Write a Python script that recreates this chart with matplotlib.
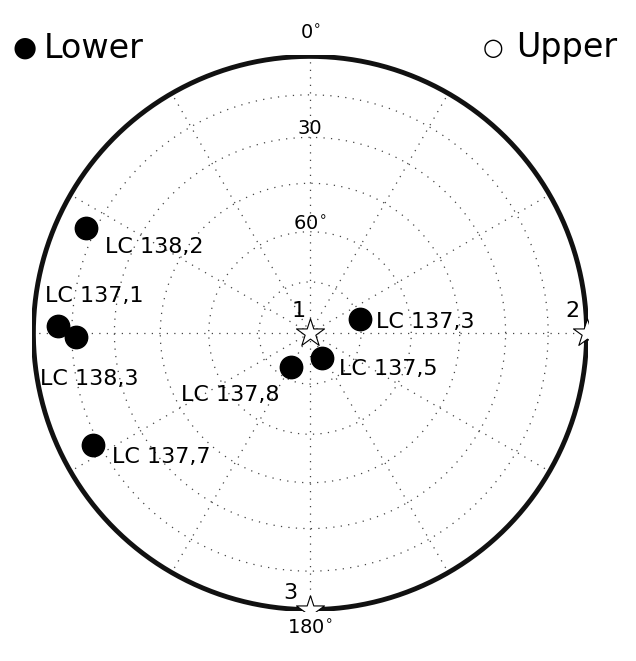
import numpy as np
import matplotlib
matplotlib.use("Agg")
import matplotlib.pyplot as plt

names = ["LC 138,2", "LC 137,1", "LC 138,3", "LC 137,7", "LC 137,3", "LC 137,5", "LC 137,8"]
dec = [295.2, 271.6, 269.0, 242.6, 74.4, 154.4, 209.2]
inc = [11.5, 9.9, 16.6, 12.7, 74.8, 81.9, 78.6]
star_names = ["1", "2", "3"]
star_dec = [0.0, 90.0, 180.0]
star_inc = [90.0, 0.0, 0.0]

def proj(d, i):
    d = np.radians(np.asarray(d, float)); i = np.asarray(i, float)
    r = np.sqrt(2) * np.sin(np.radians((90 - i) / 2))
    return r * np.sin(d), r * np.cos(d)

fig = plt.figure(figsize=(6.36, 6.61), dpi=100)
ax = fig.add_axes([32/636, 50/661, 556/636, 556/661])
ax.set_xlim(-1.005, 1.005); ax.set_ylim(-1.005, 1.005)
ax.set_aspect("equal"); ax.axis("off")

t = np.linspace(0, 2*np.pi, 400)
for ic in [15, 30, 45, 60, 75]:
    r = np.sqrt(2) * np.sin(np.radians((90 - ic) / 2))
    ax.plot(r*np.cos(t), r*np.sin(t), ls=(0, (1, 5)), color="#444", lw=0.9)
for a in range(0, 360, 30):
    ar = np.radians(a)
    ax.plot([0, np.sin(ar)], [0, np.cos(ar)], ls=(0, (1, 5)), color="#444", lw=0.9)
ax.plot(np.cos(t), np.sin(t), color="#111", lw=3.5)

x, y = proj(dec, inc)
ax.scatter(x, y, s=260, color="black", zorder=5)
offs = {"LC 138,2": (0.07, -0.07, "left"), "LC 137,1": (-0.05, 0.11, "left"),
        "LC 138,3": (-0.13, -0.15, "left"), "LC 137,7": (0.07, -0.04, "left"),
        "LC 137,3": (0.06, -0.01, "left"), "LC 137,5": (0.06, -0.04, "left"),
        "LC 137,8": (-0.04, -0.10, "right")}
for n, xi, yi in zip(names, x, y):
    dx, dy, ha = offs[n]
    ax.text(xi+dx, yi+dy, n, fontsize=16, ha=ha, va="center", zorder=6)

sx, sy = proj(star_dec, star_inc)
ax.scatter(sx, sy, s=450, marker="*", facecolor="white", edgecolor="black", lw=0.8, zorder=7)
soff = [(-0.04, 0.08), (-0.05, 0.08), (-0.07, 0.06)]
for n, xi, yi, (dx, dy) in zip(star_names, sx, sy, soff):
    ax.text(xi+dx, yi+dy, n, fontsize=16, ha="center", va="center", zorder=8)

ax.text(0, 1.08, "0$^{\\circ}$", fontsize=14, ha="center", va="center", clip_on=False)
ax.text(0, -1.07, "180$^{\\circ}$", fontsize=14, ha="center", va="center", clip_on=False)
ax.text(0, 0.74, "30", fontsize=14, ha="center", va="center")
ax.text(0, 0.39, "60$^{\\circ}$", fontsize=14, ha="center", va="center")

fig.text(12/636, 1-48/661, "●", fontsize=20, va="center", ha="left")
fig.text(44/636, 1-48/661, "Lower", fontsize=24, va="center", ha="left")
fig.text(483/636, 1-48/661, "○", fontsize=17, va="center", ha="left")
fig.text(516/636, 1-48/661, "Upper", fontsize=24, va="center", ha="left")

fig.savefig("out.png", dpi=100)
